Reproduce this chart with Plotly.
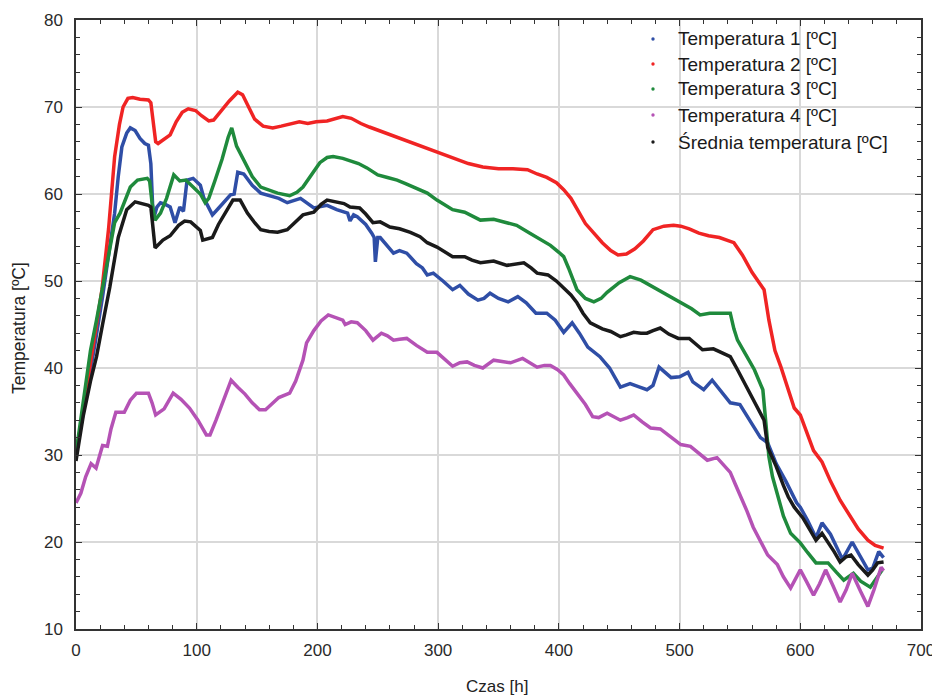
import plotly.graph_objects as go

# Time [h] / temperature [°C] pairs
T1 = [(0,30),(5,34),(10,38.5),(16,43),(22,48.2),(27,53),(32,57.8),(35,62),(38,65.4),(42,67),(45,67.6),(49,67.3),
      (53,66.4),(57,65.8),(60,65.6),(62,63.5),(64,57),(67,58.5),(70,59),(74,58.8),(78,58.5),(82,56.7),(86,58.5),
      (89,58),(92,61.6),(97,61.8),(103,61),(106,59.5),(108,59),(113,57.6),(119,58.5),(124,59.3),(128,59.9),(131,60),
      (134,62.5),(139,62.3),(146,61),(153,60.1),(160,59.8),(168,59.5),(175,59),(186,59.5),(197,58.4),(208,58.7),
      (216,58.2),(225,57.8),(227,56.9),(230,57.6),(233,57.4),(240,56.5),(245,55.5),(247,55),(248,52.2),(250,55),
      (252,55),(258,54),(263,53.2),(268,53.5),(274,53.2),(282,52),(287,51.5),(291,50.7),(296,50.9),(304,50),
      (312,49),(318,49.5),(325,48.5),(333,47.8),(338,48),(343,48.6),(350,48),(358,47.6),(366,48.2),(373,47.5),
      (381,46.3),(390,46.3),(397,45.5),(404,44.1),(411,45.2),(417,44),(424,42.4),(434,41.3),(442,40),(451,37.8),
      (459,38.2),(467,37.8),(473,37.5),(478,38),(483,40.1),(488,39.5),(493,38.9),(500,39),(507,39.5),(511,38.4),
      (520,37.5),(527,38.6),(535,37.2),(542,36),(550,35.8),(558,34),(567,32),(573,31.4),(580,29),(588,27),
      (595,25.1),(597,24.5),(600,24),(606,22.5),(613,20.5),(618,22.2),(625,20.9),(635,18),(643,20),(652,17.9),
      (656,16.8),(660,17),(665,18.9),(669,18.2)]

T2 = [(0,30),(8,37),(15,43),(21.5,49),(27,56),(32,64.3),(36,68),(39,70),(43,71),(47,71.1),(53,70.9),(60,70.8),
      (62,70.5),(64,68),(66,66),(68,65.8),(72,66.2),(78,66.8),(83,68.3),(88,69.4),(93,69.8),(99,69.6),(104,69),
      (110,68.4),(114,68.5),(120,69.5),(127,70.7),(134,71.7),(138,71.4),(143,70),(148,68.6),(155,67.8),(163,67.6),
      (170,67.8),(178,68.1),(185,68.3),(192,68.1),(199,68.3),(208,68.4),(215,68.7),(221,68.9),(228,68.7),
      (236,68.1),(243,67.7),(249,67.4),(256,67),(265,66.5),(275,66.1),(285,65.6),(295,65.1),(305,64.6),(315,64),
      (325,63.5),(337,63.1),(350,62.9),(362,62.9),(374,62.8),(382,62.3),(390,61.9),(398,61.3),(404,60.5),
      (410,59.5),(416,58),(422,56.6),(429,55.5),(436,54.4),(443,53.5),(449,53),(456,53.1),(463,53.7),(470,54.6),
      (478,55.9),(487,56.3),(495,56.4),(501,56.3),(508,56),(516,55.5),(524,55.2),(533,55),(540,54.6),(545,54.4),
      (552,53),(560,51),(567,49.6),(570,49),(574,45.5),(579,42),(584,40.1),(590,37.5),(595,35.4),(600,34.6),
      (605,32.8),(611,30.5),(618,29.2),(625,27),(633,24.8),(640,23.2),(648,21.5),(656,20.2),(662,19.6),(669,19.3)]

T3 = [(0,30.2),(6,36),(12,42),(17,45.5),(21,48.6),(26,52),(32,56.7),(36.5,57.8),(41,59.5),(45,60.8),(51,61.6),
      (59,61.8),(61,61.5),(63,59),(65.5,57),(70,57.8),(75,59.5),(81,62.2),(86,61.5),(91,61.6),(97,60.8),(103,60),
      (107,59),(110,59.5),(115,61.5),(121,64),(126,66.5),(129,67.6),(133,65.5),(139,63.9),(146,62),(153,60.8),
      (160,60.4),(167,60.1),(177,59.8),(183,60.2),(188,60.8),(195,62.2),(202,63.6),(208,64.2),(213,64.3),
      (221,64.1),(227,63.8),(234,63.5),(241,63),(250,62.2),(258,61.9),(266,61.6),(273,61.2),(280,60.8),
      (291,60.1),(299,59.3),(306,58.7),(312,58.2),(322,57.9),(335,57),(346,57.1),(356,56.7),(365,56.4),
      (376,55.5),(385,54.8),(393,54.1),(400,53.3),(404,52.8),(408,51.5),(412,50),(415,49),(422,48),(429,47.6),
      (435,48),(440,48.7),(450,49.8),(459,50.5),(468,50.1),(478,49.3),(488,48.6),(501,47.5),(510,46.8),
      (517,46.1),(525,46.3),(535,46.3),(542,46.3),(545,44.5),(548,43.2),(555,41.5),(562,39.8),(569,37.5),
      (571,34),(574,29.8),(577,27.5),(581,25.4),(586,23),(592,21),(600,19.9),(606,18.8),(613,17.6),(618,17.6),
      (623,17.6),(630,16.5),(636,15.6),(644,16.4),(650,15.5),(658,14.8),(663,15.8),(668,16.8)]

T4 = [(0,24.5),(4,25.6),(8,27.5),(12.5,29),(16.6,28.5),(22,31.1),(26,31),(29,33),(33,34.9),(40,34.9),(45,36.3),
      (50,37.1),(60,37.1),(63,36),(66,34.6),(73,35.3),(80.5,37.1),(87,36.4),(94,35.4),(101,34),(108,32.3),
      (111,32.3),(116,34),(122,36.3),(128.5,38.6),(134,37.8),(140,37),(146,36),(152,35.2),(157,35.2),(163,36),
      (168,36.6),(177,37.1),(182,38.5),(188,40.9),(191,42.9),(197,44.3),(203,45.4),(209,46.1),(216,45.8),
      (221,45.5),(223,45),(228,45.3),(233,45.2),(240,44.3),(246,43.2),(253,44),(258,43.7),(263,43.2),(268,43.3),
      (274,43.4),(282,42.6),(291,41.8),(299,41.8),(305,41),(312,40.2),(318,40.6),(324,40.7),(330,40.3),(337,40),
      (346,40.9),(353,40.8),(360,40.6),(370,41.1),(376,40.6),(382,40.1),(388,40.3),(393,40.3),(399,39.8),
      (404,39.2),(409,38.2),(415,37.1),(422,35.8),(428,34.4),(433,34.3),(440,34.8),(446,34.3),(451,34),
      (457,34.3),(462,34.6),(469,33.8),(476,33.1),(484,33),(492,32.1),(501,31.2),(509,31),(516,30.2),(523,29.4),
      (531,29.7),(537,28.8),(542,28),(546,26.7),(551,25.2),(556,23.5),(561,21.7),(567,20),(573,18.5),(581,17.4),
      (586,16),(592,14.7),(600,16.8),(605,15.5),(611,13.9),(616,15.2),(621,16.8),(627,15),(633,13.1),(638,14.5),
      (643,16.4),(650,14.3),(656,12.6),(661,14.5),(667,17.1),(669,16.7)]

AVG = [(0,29.3),(6,34.5),(12,38.5),(17,41.3),(22,45),(28,49.3),(35,55),(42,58.2),(49,59.1),(55,58.9),(60,58.7),
       (62,58.5),(64,55.5),(65.5,53.8),(72,54.7),(78,55.2),(85,56.4),(90,56.9),(95,56.8),(100,56.2),(103,55.8),
       (105,54.7),(109,54.9),(113,55),(118,56.5),(124,58),(130,59.3),(136,59.3),(142,57.8),(148,56.7),(153,55.9),
       (160,55.7),(167,55.6),(175,55.9),(182,56.8),(188,57.6),(197,57.9),(203,58.8),(208,59.3),(216,59.1),
       (222,58.9),(227,58.5),(235,58.4),(240,57.7),(246,56.7),(252,56.8),(260,56.2),(268,56),(277,55.6),
       (285,55.1),(291,54.4),(299,53.9),(306,53.3),(312,52.8),(322,52.8),(328,52.4),(335,52.1),(346,52.3),
       (357,51.8),(364,52),(371,52.1),(377,51.5),(382,50.9),(391,50.7),(398,50),(404,49.2),(410,48.4),(415,47.5),
       (420,46.3),(426,45.2),(436,44.5),(443,44.2),(451,43.6),(456,43.8),(462,44.1),(468,44),(473,44),(478,44.3),
       (484,44.6),(491,43.9),(499,43.4),(508,43.4),(514,42.7),(519,42.1),(528,42.2),(535,41.8),(542,41.3),
       (548,39.8),(555,38),(562,36),(570,34),(573,30.9),(580,28.7),(586,26.5),(590,25.2),(595,24),(602,22.8),
       (608,21.4),(613,20.2),(618,21),(623,20),(628,18.9),(633,17.7),(638,18.3),(642,18.5),(648,17.4),(656,16.2),
       (660,16.8),(664,17.6),(669,17.7)]

names = ["Temperatura 1 [ºC]", "Temperatura 2 [ºC]", "Temperatura 3 [ºC]",
         "Temperatura 4 [ºC]", "Średnia temperatura [ºC]"]
colors = ["#2f4ea6", "#f02424", "#1f8a3c", "#b552b5", "#1a1a1a"]
series = [T1, T2, T3, T4, AVG]

# page body has an 8 px margin: figure is sized/offset so the plot lands where the reference has it
OFF = 8
W, H = 940 - OFF, 697 - OFF
ML, MR, MT, MB = 76 - OFF, 19, 20 - OFF, 68
PW, PH = W - ML - MR, H - MT - MB

def px_to_paper(px, py):
    """page pixel -> paper coordinate"""
    px -= OFF
    py -= OFF
    return (px - ML) / PW, 1 - (py - MT) / PH

fig = go.Figure()
for data, name, col in zip(series, names, colors):
    xs = [p[0] for p in data]
    ys = [p[1] for p in data]
    fig.add_trace(go.Scatter(x=xs, y=ys, mode="lines", name=name, showlegend=False,
                             line=dict(color=col, width=3.5)))

# manual legend: small dots + text labels (paper coordinates)
leg_rows_py = [39, 64, 89, 115, 142]
for name, col, py in zip(names, colors, leg_rows_py):
    mx, my = px_to_paper(653, py)
    dx, dy = 1.7 / PW, 1.7 / PH
    fig.add_shape(type="circle", xref="paper", yref="paper",
                  x0=mx - dx, x1=mx + dx, y0=my - dy, y1=my + dy,
                  fillcolor=col, line=dict(color=col, width=0))
    tx, ty = px_to_paper(676, py)
    fig.add_annotation(x=tx, y=ty, xref="paper", yref="paper", text=name, showarrow=False,
                       xanchor="left", yanchor="middle",
                       font=dict(size=19, family="Liberation Sans, Arial", color="#1a1a1a"))

tickfont = dict(family="Liberation Sans, Arial", size=17, color="#2a2a2a")
axis_common = dict(showline=True, linecolor="#333", linewidth=1.5, mirror="ticks",
                   ticks="inside", ticklen=6, tickcolor="#333", tickwidth=1,
                   showgrid=True, gridcolor="#d9d9d9", gridwidth=1.5, zeroline=False,
                   tickfont=tickfont, automargin=False)
fig.update_layout(
    width=W, height=H,
    margin=dict(l=ML, r=MR, t=MT, b=MB),
    paper_bgcolor="white", plot_bgcolor="white",
    font=dict(family="Liberation Sans, Arial", color="#222"),
    xaxis=dict(range=[0, 700], dtick=100, tick0=0, ticklabelstandoff=5,
               minor=dict(dtick=20, ticks="inside", ticklen=4, tickcolor="#333", showgrid=False),
               **axis_common),
    yaxis=dict(range=[10, 80], dtick=10, tick0=10, ticklabelstandoff=8,
               minor=dict(dtick=2, ticks="inside", ticklen=4, tickcolor="#333", showgrid=False),
               **axis_common),
    showlegend=False,
)
# axis titles as annotations for exact placement
cx, cy = px_to_paper(497, 686)
fig.add_annotation(x=cx, y=cy, xref="paper", yref="paper", text="Czas [h]", showarrow=False,
                   xanchor="center", yanchor="middle",
                   font=dict(size=17, family="Liberation Sans, Arial", color="#222"))
tx, ty = px_to_paper(19, 328)
fig.add_annotation(x=tx, y=ty, xref="paper", yref="paper", text="Temperatura [ºC]", showarrow=False,
                   textangle=-90, xanchor="center", yanchor="middle",
                   font=dict(size=17.5, family="Liberation Sans, Arial", color="#222"))
fig.write_html("out.html")
